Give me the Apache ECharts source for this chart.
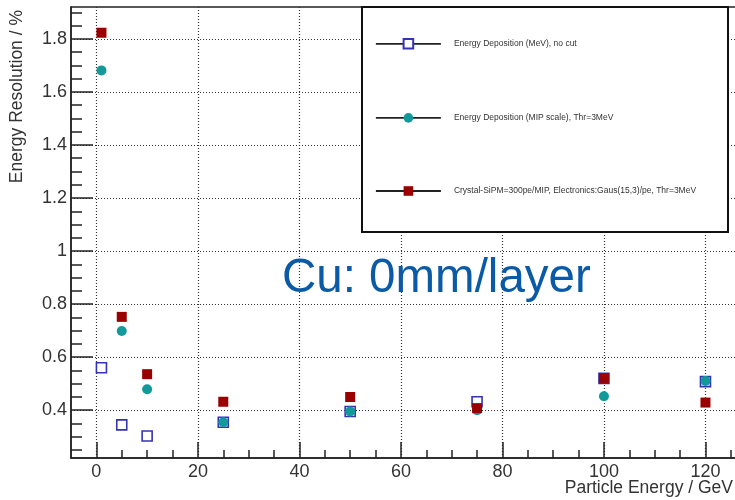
<!DOCTYPE html>
<html>
<head>
<meta charset="utf-8">
<title>Energy Resolution vs Particle Energy</title>
<script src="https://cdn.jsdelivr.net/npm/echarts@6/dist/echarts.min.js"></script>
<style>
  html, body { margin: 0; padding: 0; background: #fff; }
  #chart { width: 735px; height: 500px; }
</style>
</head>
<body>
<div id="chart"></div>
<script>
// Beam energies (GeV)
const energies = [1, 5, 10, 25, 50, 75, 100, 120];

// Energy resolution (%) for each configuration
const seriesNames = [
  'Energy Deposition (MeV), no cut',
  'Energy Deposition (MIP scale), Thr=3MeV',
  'Crystal-SiPM=300pe/MIP, Electronics:Gaus(15,3)/pe, Thr=3MeV'
];
const resNoCut   = [0.560, 0.345, 0.303, 0.355, 0.395, 0.432, 0.520, 0.508];
const resMip     = [1.681, 0.699, 0.479, 0.355, 0.395, 0.400, 0.453, 0.510];
const resCrystal = [1.823, 0.752, 0.536, 0.432, 0.450, 0.408, 0.520, 0.429];

// Axis tick values
const xMajorTicks = [0, 20, 40, 60, 80, 100, 120];
const yMajorTicks = [0.4, 0.6, 0.8, 1, 1.2, 1.4, 1.6, 1.8];
const xRange = [-5, 127];
const yRange = [0.22, 1.92];

const xMinorTicks = [];
for (let v = 5; v < xRange[1]; v += 5) if (v % 20 !== 0) xMinorTicks.push(v);
const yMinorTicks = [];
for (let k = 5; k <= 38; k++) if (k % 4 !== 0) yMinorTicks.push(+(k * 0.05).toFixed(2));

const FONT = 'Liberation Sans, Arial, sans-serif';
const AXIS_COLOR = '#222';
const TEXT_COLOR = '#333';

function pairs(ys) { return energies.map((x, i) => [x, ys[i]]); }

const chart = echarts.init(document.getElementById('chart'), null, { renderer: 'canvas' });

const dotted = { type: [1, 2], color: '#333', width: 1.2 };

chart.setOption({
  animation: false,
  backgroundColor: '#fff',
  textStyle: { fontFamily: FONT },
  grid: {
    left: 71, top: 7, width: 670, height: 451,
    show: true, borderColor: AXIS_COLOR, borderWidth: 1.5, backgroundColor: '#fff',
    containLabel: false, outerBoundsMode: 'none'
  },
  xAxis: [
    {
      type: 'value', min: xRange[0], max: xRange[1], position: 'bottom',
      axisLine: { show: true, onZero: false, lineStyle: { color: AXIS_COLOR, width: 1.5 } },
      axisTick: { show: true, inside: true, length: 16, customValues: xMajorTicks,
                  lineStyle: { color: AXIS_COLOR, width: 1.5 } },
      axisLabel: { show: true, customValues: xMajorTicks, margin: 5, fontSize: 18,
                   color: TEXT_COLOR, fontFamily: FONT },
      splitLine: { show: true, lineStyle: dotted },
      minorTick: { show: false }, minorSplitLine: { show: false }
    },
    {
      type: 'value', min: xRange[0], max: xRange[1], position: 'bottom',
      axisLine: { show: false, onZero: false },
      axisTick: { show: true, inside: true, length: 8, customValues: xMinorTicks,
                  lineStyle: { color: AXIS_COLOR, width: 1.5 } },
      axisLabel: { show: false },
      splitLine: { show: false }
    }
  ],
  yAxis: [
    {
      type: 'value', min: yRange[0], max: yRange[1], position: 'left',
      axisLine: { show: true, onZero: false, lineStyle: { color: AXIS_COLOR, width: 1.5 } },
      axisTick: { show: true, inside: true, length: 22, customValues: yMajorTicks,
                  lineStyle: { color: AXIS_COLOR, width: 1.5 } },
      axisLabel: { show: true, customValues: yMajorTicks, margin: 4, fontSize: 18,
                   color: TEXT_COLOR, fontFamily: FONT },
      splitLine: { show: true, lineStyle: dotted }
    },
    {
      type: 'value', min: yRange[0], max: yRange[1], position: 'left',
      axisLine: { show: false, onZero: false },
      axisTick: { show: true, inside: true, length: 11, customValues: yMinorTicks,
                  lineStyle: { color: AXIS_COLOR, width: 1.5 } },
      axisLabel: { show: false },
      splitLine: { show: false }
    }
  ],
  legend: {
    orient: 'vertical', left: 375, top: 38, padding: 0,
    itemWidth: 65, itemHeight: 12, itemGap: 63.5,
    selectedMode: false, z: 6,
    data: seriesNames,
    lineStyle: { color: AXIS_COLOR, width: 1.8, opacity: 1, type: 'solid' },
    textStyle: { fontSize: 8.5, color: TEXT_COLOR, fontFamily: FONT, padding: [0, 0, 0, 8] }
  },
  graphic: [
    {
      type: 'rect', z: 5,
      shape: { x: 362, y: 7, width: 366, height: 225 },
      style: { fill: '#fff', stroke: '#111', lineWidth: 2 }
    },
    {
      type: 'text', z: 7, x: 17, y: 10, rotation: Math.PI / 2,
      style: { text: 'Energy Resolution / %', fontSize: 17.5, fontFamily: FONT,
               fill: TEXT_COLOR, align: 'right', verticalAlign: 'middle' }
    },
    {
      type: 'text', z: 7, x: 733, y: 488,
      style: { text: 'Particle Energy / GeV', fontSize: 17.5, fontFamily: FONT,
               fill: TEXT_COLOR, align: 'right', verticalAlign: 'middle' }
    },
    {
      type: 'text', z: 7, x: 282, y: 279,
      style: { text: 'Cu: 0mm/layer', fontSize: 47.5, fontFamily: FONT,
               fill: '#0b5aa6', align: 'left', verticalAlign: 'middle' }
    }
  ],
  series: [
    {
      name: seriesNames[0], type: 'line', data: pairs(resNoCut),
      xAxisIndex: 0, yAxisIndex: 0, z: 3,
      symbol: 'rect', symbolSize: 10, showAllSymbol: true,
      lineStyle: { width: 0, opacity: 0 },
      itemStyle: { color: '#fff', borderColor: '#3333b3', borderWidth: 1.6 }
    },
    {
      name: seriesNames[1], type: 'line', data: pairs(resMip),
      xAxisIndex: 0, yAxisIndex: 0, z: 4,
      symbol: 'circle', symbolSize: 10, showAllSymbol: true,
      lineStyle: { width: 0, opacity: 0 },
      itemStyle: { color: '#129a9a', borderWidth: 0 }
    },
    {
      name: seriesNames[2], type: 'line', data: pairs(resCrystal),
      xAxisIndex: 0, yAxisIndex: 0, z: 5,
      symbol: 'rect', symbolSize: 10, showAllSymbol: true,
      lineStyle: { width: 0, opacity: 0 },
      itemStyle: { color: '#9b0000', borderWidth: 0 }
    }
  ]
});
</script>
</body>
</html>
